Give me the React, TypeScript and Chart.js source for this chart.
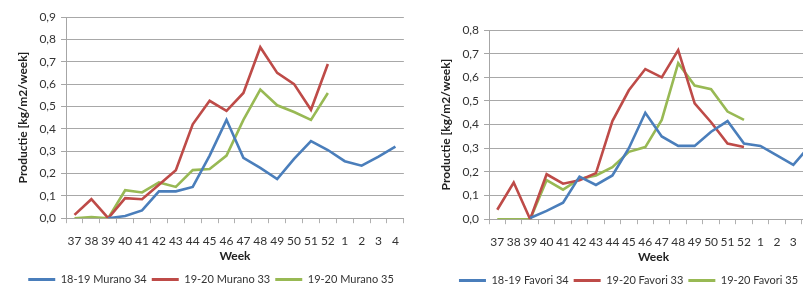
import React, { useEffect, useRef } from "react";
import { Chart, registerables } from "chart.js";

Chart.register(...registerables);

const weeks = ["37", "38", "39", "40", "41", "42", "43", "44", "45", "46", "47", "48", "49", "50", "51", "52", "1", "2", "3", "4"];

const muranoLabels = ["18-19 Murano 34", "19-20 Murano 33", "19-20 Murano 35"];
const murano34 = [null, null, 0.0, 0.01, 0.035, 0.12, 0.12, 0.14, 0.28, 0.44, 0.27, 0.225, 0.175, 0.265, 0.345, 0.305, 0.255, 0.235, 0.275, 0.32];
const murano33 = [0.015, 0.085, 0.0, 0.09, 0.085, 0.15, 0.215, 0.42, 0.525, 0.48, 0.56, 0.765, 0.65, 0.6, 0.485, 0.69, null, null, null, null];
const murano35 = [0.0, 0.005, 0.0, 0.125, 0.115, 0.16, 0.14, 0.215, 0.22, 0.28, 0.44, 0.575, 0.505, 0.475, 0.44, 0.56, null, null, null, null];

const favoriLabels = ["18-19 Favori 34", "19-20 Favori 33", "19-20 Favori 35"];
const favori34 = [null, null, 0.005, 0.035, 0.07, 0.18, 0.145, 0.185, 0.3, 0.45, 0.35, 0.31, 0.31, 0.37, 0.415, 0.32, 0.31, 0.27, 0.23, 0.31];
const favori33 = [0.04, 0.155, 0.0, 0.19, 0.15, 0.165, 0.195, 0.415, 0.545, 0.635, 0.6, 0.715, 0.49, 0.41, 0.32, 0.305, null, null, null, null];
const favori35 = [0.0, 0.0, 0.0, 0.165, 0.125, 0.17, 0.185, 0.22, 0.285, 0.305, 0.42, 0.66, 0.565, 0.55, 0.455, 0.42, null, null, null, null];

const yTitle = "Productie [kg/m2/week]";
const xTitle = "Week";

const COLORS = ["#4a7ebb", "#be4b48", "#98b954"];
const FONT = "Lato, 'Liberation Sans', sans-serif";

type PanelProps = {
  labels: string[];
  series: (number | null)[][];
  yMax: number;
  left: number;
  width: number;
  padLeft: number;
  padTop: number;
  padRight: number;
  padBottom: number;
};

function Panel({ labels, series, yMax, left, width, padLeft, padTop, padRight, padBottom }: PanelProps) {
  const ref = useRef<HTMLCanvasElement | null>(null);
  useEffect(() => {
    if (!ref.current) return;
    const chart = new Chart(ref.current, {
      type: "line",
      data: {
        labels: weeks,
        datasets: series.map((d, i) => ({
          label: labels[i],
          data: d,
          borderColor: COLORS[i],
          backgroundColor: COLORS[i],
          borderWidth: 2.6,
          pointRadius: 0,
          tension: 0,
          spanGaps: false,
        })),
      },
      options: {
        animation: false,
        responsive: false,
        maintainAspectRatio: false,
        layout: { padding: { left: padLeft, top: padTop, right: padRight, bottom: padBottom } },
        plugins: {
          tooltip: { enabled: false },
          legend: {
            position: "bottom",
            labels: {
              boxWidth: 27,
              boxHeight: 3,
              padding: 5,
              color: "#333",
              font: { family: FONT, size: 11 },
              generateLabels: (c: any) =>
                Chart.defaults.plugins.legend.labels.generateLabels(c).map((it: any) => ({
                  ...it,
                  lineWidth: 0,
                  fillStyle: it.strokeStyle,
                })),
            },
          },
        },
        scales: {
          x: {
            type: "category",
            offset: true,
            grid: {
              display: true,
              offset: true,
              drawOnChartArea: false,
              drawTicks: true,
              tickLength: 5,
              tickColor: "#b0b0b0",
            },
            border: { color: "#a6a6a6", width: 1 },
            ticks: {
              color: "#333",
              font: { family: FONT, size: 12 },
              maxRotation: 0,
              autoSkip: false,
              padding: 11,
            },
            title: {
              display: true,
              text: xTitle,
              color: "#222",
              font: { family: FONT, size: 12, weight: "bold" },
              padding: { top: -11, bottom: 6 },
            },
          },
          y: {
            min: 0,
            max: yMax,
            grid: {
              color: "#a8a8a8",
              lineWidth: 1,
              borderDash: [3, 2],
              drawTicks: true,
              tickLength: 5,
              tickColor: "#a6a6a6",
              tickBorderDash: [],
            },
            border: { color: "#a6a6a6", width: 1 },
            ticks: {
              stepSize: 0.1,
              color: "#333",
              font: { family: FONT, size: 12 },
              padding: 5,
              callback: (v: any) => Number(v).toFixed(1).replace(".", ","),
            },
            title: {
              display: true,
              text: yTitle,
              color: "#222",
              font: { family: FONT, size: 12, weight: "bold" },
              padding: { top: 0, bottom: 4 },
            },
          },
        },
      },
    } as any);
    return () => chart.destroy();
  }, []);
  return (
    <div style={{ position: "absolute", left, top: 0, width, height: 287 }}>
      <canvas ref={ref} width={width} height={287} style={{ display: "block", width, height: 287 }} />
    </div>
  );
}

export default function App() {
  return (
    <div
      style={{
        position: "fixed",
        left: 0,
        top: 0,
        width: 803,
        height: 287,
        overflow: "hidden",
        background: "#fff",
      }}
    >
      <Panel labels={muranoLabels} series={[murano34, murano33, murano35]} yMax={0.9} left={0} width={410} padLeft={16} padTop={17} padRight={4} padBottom={-8} />
      <Panel labels={favoriLabels} series={[favori34, favori33, favori35]} yMax={0.8} left={415} width={440} padLeft={24} padTop={30} padRight={37} padBottom={-9} />
    </div>
  );
}
